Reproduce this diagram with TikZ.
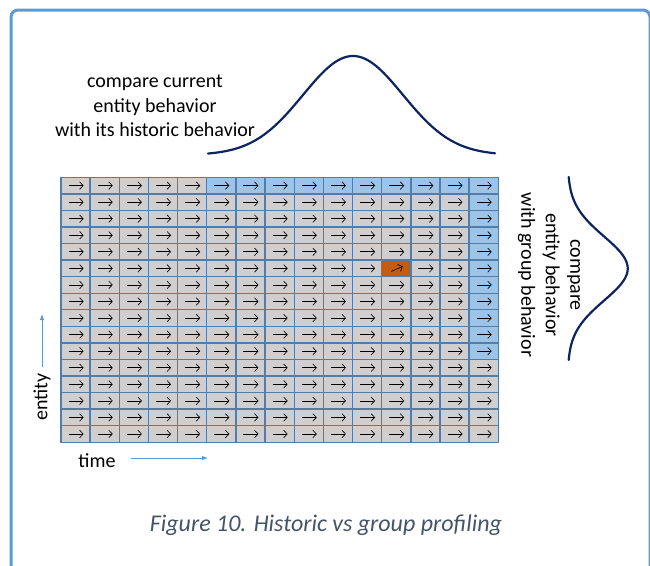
\documentclass[tikz,border=0pt]{standalone}
\usepackage{fontspec}
\setmainfont{Carlito}
\usetikzlibrary{arrows.meta}
\definecolor{framebl}{RGB}{91,155,213}
\definecolor{cellgray}{RGB}{208,206,206}
\definecolor{cellblue}{RGB}{157,195,230}
\definecolor{cellorange}{RGB}{197,90,17}
\definecolor{celledge}{RGB}{80,125,170}
\definecolor{curvenavy}{RGB}{12,36,96}
\definecolor{captiongray}{RGB}{68,84,106}
\begin{document}
\begin{tikzpicture}[x=1pt,y=-1pt,
  cell/.style={draw=none, fill=cellgray,
    minimum width=29.15pt, minimum height=16.56pt, inner sep=0pt, outer sep=0pt},
  gridline/.style={draw=celledge, line width=1.4pt, line cap=rect},
  cellarrow/.style={draw=black, line width=0.65pt, -{Straight Barb[length=3.5pt,width=7.5pt]}},
  bell/.style={draw=curvenavy, line width=2.2pt, line cap=round},
  axisarrow/.style={draw=framebl, line width=0.9pt, -{Latex[length=6pt,width=4.5pt]}},
  label/.style={font=\fontsize{20}{24.4}\selectfont, align=center, inner sep=0pt}]
\useasboundingbox (0,0) rectangle (650,565);
\clip (0,0) rectangle (650,565);

% outer frame (runs past the right and bottom edges)
\draw[framebl, line width=3pt, rounded corners=7pt]
  (11,640) -- (11,10) -- (650,10) -- (650,640);

% grid of time steps (columns) per entity (rows)
\foreach \r in {0,...,15} {
  \foreach \c in {0,...,14} {
    \def\cellfill{cellgray}
    \ifnum\r=0 \ifnum\c>4 \def\cellfill{cellblue}\fi\fi
    \ifnum\c=14 \ifnum\r<11 \def\cellfill{cellblue}\fi\fi
    \ifnum\r=5 \ifnum\c=11 \def\cellfill{cellorange}\fi\fi
    \node[cell, fill=\cellfill] (c-\r-\c) at ({61+29.15*(\c+0.5)}, {177.3+16.56*(\r+0.5)}) {};
  }
}
% cell borders
\foreach \c in {0,...,14}
  \draw[gridline] (c-0-\c.north west) -- (c-15-\c.south west);
\draw[gridline] (c-0-14.north east) -- (c-15-14.south east);
\foreach \r in {0,...,15}
  \draw[gridline] (c-\r-0.north west) -- (c-\r-14.north east);
\draw[gridline] (c-15-0.south west) -- (c-15-14.south east);

% one arrow per cell; the highlighted cell points up-right
\foreach \r in {0,...,15} {
  \foreach \c in {0,...,14} {
    \ifnum\r=5 \ifnum\c=11
      \draw[cellarrow] ([shift={(-5pt,-3pt)}]c-\r-\c.center) -- ([shift={(6.5pt,2pt)}]c-\r-\c.center);
    \else
      \draw[cellarrow] ([xshift=-7pt]c-\r-\c.center) -- ([xshift=8pt]c-\r-\c.center);
    \fi
    \else
      \draw[cellarrow] ([xshift=-7pt]c-\r-\c.center) -- ([xshift=8pt]c-\r-\c.center);
    \fi
  }
}

% distribution curves
\draw[bell] plot[domain=208:495, samples=120, smooth]
  (\x, {155-99*exp(-0.5*pow((\x-353)/50,2))});
\draw[bell] plot[domain=177:360, samples=100, smooth]
  ({567.7+60*exp(-0.5*pow((\x-268.5)/32,2))}, \x);

% labels
\node[label] (hist) at (155,106) {compare current\\entity behavior\\with its historic behavior};
\node[label, rotate=-90] (group) at (549,275) {compare\\entity behavior\\with group behavior};
\node[label, rotate=90] (entity) at (42,397) {entity};
\node[label] (time) at (97,461) {time};

% axis arrows
\coordinate (entA) at (42,367);
\coordinate (entB) at (42,314);
\draw[axisarrow] (entA) -- (entB);
\coordinate (timeA) at (131,458);
\coordinate (timeB) at (208,458);
\draw[axisarrow] (timeA) -- (timeB);

% caption
\node[label, text=captiongray, font=\fontsize{24}{28}\selectfont\itshape] (caption) at (326,525)
  {Figure 10. Historic vs group profiling};
\end{tikzpicture}
\end{document}
